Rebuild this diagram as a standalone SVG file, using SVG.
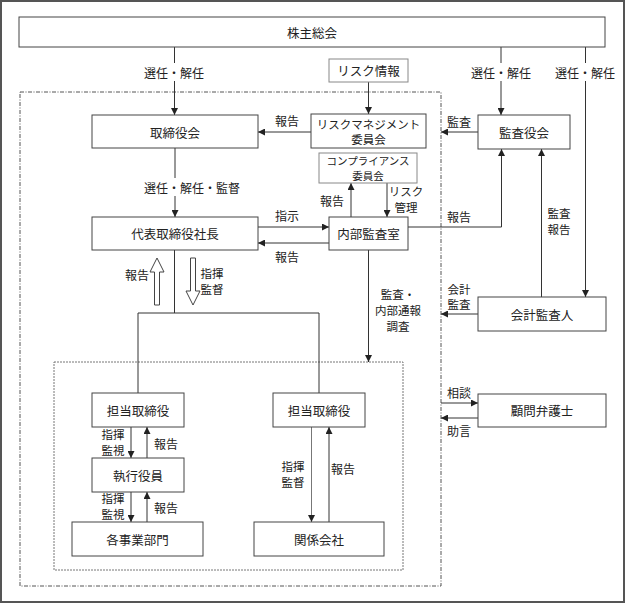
<svg xmlns="http://www.w3.org/2000/svg" width="625" height="603" viewBox="0 0 625 603">
<style>
text{font-family:"Noto Sans CJK JP","Noto Sans CJK SC",sans-serif;fill:#222;text-anchor:middle;dominant-baseline:central}
.bt{font-size:12.5px}
.bt2{font-size:11.5px}
.bt3{font-size:10.5px}
.lb{font-size:12px}
.lb2{font-size:11.5px}
.box{fill:#fff;stroke:#444;stroke-width:1}
.gbox{fill:#fff;stroke:#888;stroke-width:1}
.ln{fill:none;stroke:#333;stroke-width:1}
.gl{fill:none;stroke:#777;stroke-width:1}
.ar{marker-end:url(#ah)}
.wb{fill:#fff}
</style>
<defs>
<marker id="ah" viewBox="0 0 10 10" refX="10" refY="5" markerWidth="7" markerHeight="7" markerUnits="userSpaceOnUse" orient="auto">
<path d="M0,0L10,5L0,10z" fill="#222"/>
</marker>
</defs>
<rect x="1" y="1" width="623" height="601" fill="#fff" stroke="#555" stroke-width="2"/>
<rect x="20" y="92" width="421" height="494" fill="none" stroke="#555" stroke-width="1" stroke-dasharray="4,1.5,1,1.5"/>
<rect x="54" y="362" width="349" height="208" fill="none" stroke="#777" stroke-width="1" stroke-dasharray="2,1"/>
<g id="connectors">
<path class="ln ar" d="M174.5,47V115"/>
<path class="ln ar" d="M501,47V115"/>
<path class="ln ar" d="M585.5,47V297"/>
<path class="ln ar" d="M368.5,82V114"/>
<path class="ln ar" d="M311,132H258"/>
<path class="ln ar" d="M478,132H441"/>
<path class="ln ar" d="M175,148V217"/>
<path class="ln ar" d="M258,227H329"/>
<path class="ln ar" d="M329,243H258"/>
<path class="ln ar" d="M351,217V183"/>
<path class="ln ar" d="M387,183V217"/>
<path class="ln ar" d="M408,227H501.5V149"/>
<path class="ln ar" d="M541.5,297V149"/>
<path class="ln ar" d="M368.5,250V362"/>
<path class="ln ar" d="M478,314H441"/>
<path class="ln ar" d="M441,403H478"/>
<path class="ln ar" d="M478,418H441"/>
<path class="ln" d="M174.5,250V313M138,313H319M138,313V393M319,313V393"/>
<path d="M154.5,305V272H150L157,258L164,272H159.5V305Z" fill="#fff" stroke="#444" stroke-width="1"/>
<path d="M190.5,258V291H186L193,305L200,291H195.5V258Z" fill="#fff" stroke="#444" stroke-width="1"/>
<path class="ln ar" d="M131,427V458"/>
<path class="ln ar" d="M147,458V427"/>
<path class="ln ar" d="M131,492V522"/>
<path class="ln ar" d="M147,522V492"/>
<path class="gl ar" d="M311.5,427V522"/>
<path class="ln ar" d="M329,522V427"/>
</g>
<g id="labels">
<rect class="wb" x="143" y="63" width="62" height="18"/>
<text class="lb" x="174" y="72">選任・解任</text>
<rect class="wb" x="470" y="63" width="62" height="18"/>
<text class="lb" x="501" y="72">選任・解任</text>
<rect class="wb" x="554" y="63" width="62" height="18"/>
<text class="lb" x="585" y="72">選任・解任</text>
<rect class="wb" x="143" y="178" width="98" height="18"/>
<text class="lb" x="192" y="187">選任・解任・監督</text>
<text class="lb" x="287" y="120">報告</text>
<text class="lb" x="459" y="121">監査</text>
<text class="lb" x="287" y="215">指示</text>
<text class="lb" x="287" y="256">報告</text>
<text class="lb" x="332" y="200">報告</text>
<text class="lb2" x="406" y="191">リスク</text>
<text class="lb2" x="406" y="207">管理</text>
<text class="lb" x="459" y="216">報告</text>
<text class="lb2" x="559" y="213">監査</text>
<text class="lb2" x="559" y="229">報告</text>
<text class="lb" x="137" y="274">報告</text>
<text class="lb2" x="212" y="273">指揮</text>
<text class="lb2" x="212" y="289">監督</text>
<text class="lb2" x="398" y="294">監査・</text>
<text class="lb2" x="398" y="310">内部通報</text>
<text class="lb2" x="398" y="326">調査</text>
<text class="lb2" x="459" y="289">会計</text>
<text class="lb2" x="459" y="304">監査</text>
<text class="lb" x="459" y="392">相談</text>
<text class="lb" x="459" y="430">助言</text>
<text class="lb2" x="113" y="434">指揮</text>
<text class="lb2" x="113" y="450">監視</text>
<text class="lb" x="166" y="443">報告</text>
<text class="lb2" x="113" y="498">指揮</text>
<text class="lb2" x="113" y="514">監視</text>
<text class="lb" x="166" y="507">報告</text>
<text class="lb2" x="293" y="466">指揮</text>
<text class="lb2" x="293" y="482">監督</text>
<text class="lb" x="343" y="468">報告</text>
</g>
<g id="n-shareholders"><rect class="box" x="19" y="17" width="586" height="30"/><text class="bt" x="312" y="32">株主総会</text></g>
<g id="n-riskinfo"><rect class="gbox" x="329" y="59" width="79" height="23"/><text class="bt" x="368.5" y="70.5">リスク情報</text></g>
<g id="n-board"><rect class="box" x="92" y="115" width="166" height="33"/><text class="bt" x="175" y="132">取締役会</text></g>
<g id="n-riskmgmt"><rect class="box" x="311" y="114" width="115" height="34"/><text class="bt2" x="368.5" y="123.5">リスクマネジメント</text><text class="bt2" x="368.5" y="139">委員会</text></g>
<g id="n-auditboard"><rect class="box" x="478" y="115" width="92" height="34"/><text class="bt" x="524" y="132">監査役会</text></g>
<g id="n-compliance"><rect class="gbox" x="319" y="153" width="98" height="30"/><text class="bt3" x="368" y="160.5">コンプライアンス</text><text class="bt3" x="368" y="175.5">委員会</text></g>
<g id="n-president"><rect class="box" x="92" y="217" width="166" height="33"/><text class="bt" x="175" y="233.5">代表取締役社長</text></g>
<g id="n-internalaudit"><rect class="box" x="329" y="217" width="79" height="33"/><text class="bt" x="368.5" y="233.5">内部監査室</text></g>
<g id="n-accountant"><rect class="box" x="478" y="297" width="128" height="34"/><text class="bt" x="542" y="314">会計監査人</text></g>
<g id="n-lawyer"><rect class="box" x="478" y="394" width="128" height="33"/><text class="bt" x="542" y="410.5">顧問弁護士</text></g>
<g id="n-director1"><rect class="box" x="92" y="393" width="92" height="34"/><text class="bt" x="138" y="410">担当取締役</text></g>
<g id="n-director2"><rect class="box" x="273" y="393" width="92" height="34"/><text class="bt" x="319" y="410">担当取締役</text></g>
<g id="n-officer"><rect class="box" x="92" y="458" width="92" height="34"/><text class="bt" x="138" y="475">執行役員</text></g>
<g id="n-divisions"><rect class="box" x="72" y="522" width="131" height="34"/><text class="bt" x="137.5" y="539">各事業部門</text></g>
<g id="n-affiliates"><rect class="box" x="254" y="522" width="130" height="34"/><text class="bt" x="319" y="539">関係会社</text></g>
</svg>
